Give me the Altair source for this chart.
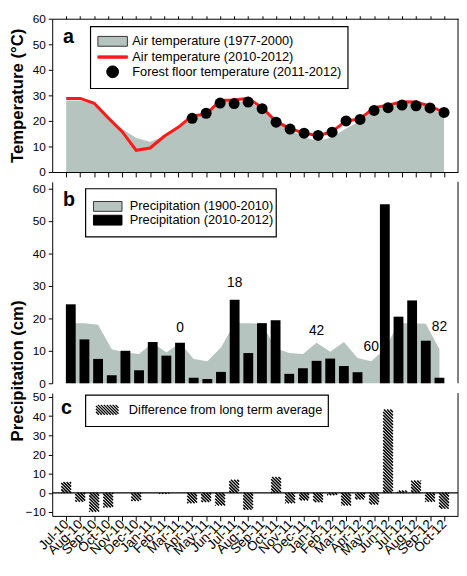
import altair as alt
import pandas as pd

# ---------------- data ----------------
months = ["Jul-10", "Aug-10", "Sep-10", "Oct-10", "Nov-10", "Dec-10",
          "Jan-11", "Feb-11", "Mar-11", "Apr-11", "May-11", "Jun-11",
          "Jul-11", "Aug-11", "Sep-11", "Oct-11", "Nov-11", "Dec-11",
          "Jan-12", "Feb-12", "Mar-12", "Apr-12", "May-12", "Jun-12",
          "Jul-12", "Aug-12", "Sep-12", "Oct-12"]

air_temp_1977_2000 = [28.0, 28.0, 26.5, 21.2, 16.8, 13.3, 11.8, 13.8, 17.2, 21.0,
                      22.5, 27.5, 27.6, 27.6, 24.8, 19.5, 16.5, 13.6, 12.1, 13.6,
                      17.0, 20.0, 24.8, 25.5, 27.2, 27.0, 25.5, 21.8]
air_temp_2010_2012 = [28.8, 28.8, 26.9, 21.2, 15.8, 8.5, 9.4, 14.0, 17.5, 22.0,
                      22.6, 28.0, 28.2, 28.9, 25.2, 19.8, 17.0, 15.2, 14.2, 15.8,
                      20.0, 20.8, 25.2, 26.2, 27.5, 27.4, 25.8, 23.3]
floor_temp_months = months[9:]
floor_temp_2011_2012 = [21.0, 23.0, 27.0, 26.8, 27.4, 24.8, 19.5, 16.8, 15.2, 14.3,
                        15.6, 20.0, 20.6, 24.1, 25.2, 26.2, 25.9, 25.1, 23.3]

precip_1900_2010 = [18.5, 18.5, 18.0, 10.5, 9.5, 9.0, 12.5, 9.5, 12.5, 7.5,
                    6.8, 11.0, 18.5, 18.5, 18.3, 10.8, 9.3, 9.0, 12.5, 9.7,
                    12.7, 7.8, 6.8, 10.5, 18.5, 18.5, 18.3, 10.5]
precip_2010_2012 = [24.3, 13.5, 7.5, 2.5, 10.0, 4.0, 12.7, 8.5, 12.5, 1.7,
                    1.3, 3.5, 25.7, 9.3, 18.5, 19.4, 2.9, 4.6, 6.9, 7.6,
                    5.3, 3.4, 0.0, 55.1, 20.5, 25.5, 13.1, 1.7]
precip_difference = [5.6, -4.6, -9.8, -7.6, 0.0, -4.2, 0.0, -0.5, 0.0, -5.4,
                     -4.8, -6.6, 6.8, -8.8, 0.0, 8.3, -5.4, -3.9, -4.9, -1.2,
                     -6.6, -3.4, -6.0, 43.4, 1.2, 6.4, -4.6, -8.3]

note_labels = ["0", "18", "42", "60", "82"]
note_months = ["Mar-11", "Jul-11", "Jan-12", "May-12", "Oct-12"]
note_values = [17.0, 30.7, 16.0, 11.0, 17.3]

legend_a = ["Air temperature (1977-2000)", "Air temperature (2010-2012)",
            "Forest floor temperature (2011-2012)"]
legend_b = ["Precipitation (1900-2010)", "Precipitation (2010-2012)"]
legend_c = ["Difference from long term average"]

# ---------------- styling ----------------
FONT = "Liberation Sans"
W = 413
HA, HB, HC = 156, 205, 125
XDOM = [-1, 28]
GRAY = "#b5c4bf"
RED = "#ff1a1a"
BAR_W = 10

idx = list(range(len(months)))
label_expr = "[" + ",".join("'%s'" % m for m in months) + "][datum.value]"
xscale = alt.Scale(domain=XDOM, nice=False, zero=False)


def yaxis(values, title=None, **kw):
    args = dict(values=values, minExtent=24, maxExtent=24, titlePadding=2, tickSize=4,
                labelOverlap=False)
    args["title"] = title
    args.update(kw)
    return alt.Axis(**args)


def x_plain(orient="bottom", tick=5):
    return alt.X("i:Q", scale=xscale,
                 axis=alt.Axis(values=idx, labels=False, tickSize=tick, orient=orient,
                               title=None, domain=True))


def right_line(h):
    return alt.Chart(pd.DataFrame({"k": [0]})).mark_rule(color="black", strokeWidth=1).encode(
        x=alt.value(W), y=alt.value(0), y2=alt.value(h))


def frame(x1, y1, x2, y2):
    return alt.Chart(pd.DataFrame({"k": [0]})).mark_rect(
        fill="white", stroke="black", strokeWidth=1.2).encode(
        x=alt.value(x1), x2=alt.value(x2), y=alt.value(y1), y2=alt.value(y2))


def letter(t, x, y):
    return alt.Chart(pd.DataFrame({"k": [0]})).mark_text(
        text=t, font=FONT, fontSize=20, fontWeight="bold", align="left",
        baseline="middle", color="black").encode(x=alt.value(x), y=alt.value(y))


def legend_layer(labels, fills, strokes, paths, size, lx, ly, offset, sw=1.0):
    leg = alt.Legend(title=None, orient="none", legendX=lx, legendY=ly,
                     symbolSize=size, labelOffset=offset, rowPadding=0, padding=0,
                     symbolStrokeWidth=sw, labelFontSize=13, labelFont=FONT,
                     labelColor="black", labelLimit=400, symbolOpacity=1)
    df = pd.DataFrame({"series": labels})
    return alt.Chart(df).mark_point(filled=True, opacity=1).encode(
        fill=alt.Fill("series:N", scale=alt.Scale(domain=labels, range=fills), legend=leg),
        stroke=alt.Stroke("series:N", scale=alt.Scale(domain=labels, range=strokes), legend=leg),
        shape=alt.Shape("series:N", scale=alt.Scale(domain=labels, range=paths), legend=leg),
    ).transform_filter("false")


def rect_path(hw, hh):
    return "M%.3f,%.3fH%.3fV%.3fH%.3fZ" % (-hw, -hh, hw, hh, -hw)


def circle_path(r):
    return "M%.3f,0A%.3f,%.3f,0,1,1,%.3f,0A%.3f,%.3f,0,1,1,%.3f,0Z" % (-r, r, r, r, r, r, -r)


def hatch_path(hw, hh, step):
    parts = []
    c = -(hw + hh)
    while c <= hw + hh:
        x1 = max(-hw, c - hh)
        x2 = min(hw, c + hh)
        if x2 - x1 > 0.05:
            parts.append("M%.3f,%.3fL%.3f,%.3f" % (x1, x1 - c, x2, x2 - c))
        c += step
    return "".join(parts)


# ---------------- panel a ----------------
ya = alt.Y("v:Q", scale=alt.Scale(domain=[0, 60], nice=False),
           axis=yaxis(list(range(0, 61, 10)), "Temperature (°C)"))

df_lt = pd.DataFrame({"i": idx, "v": air_temp_1977_2000})
df_now = pd.DataFrame({"i": idx, "v": air_temp_2010_2012})
df_floor = pd.DataFrame({"i": [months.index(m) for m in floor_temp_months],
                         "v": floor_temp_2011_2012})

area_a = alt.Chart(df_lt).mark_area(color=GRAY, opacity=1).encode(x=x_plain(), y=ya)
line_a = alt.Chart(df_now).mark_line(color=RED, strokeWidth=3).encode(
    x=x_plain("top", 3), y=ya)
dots_a = alt.Chart(df_floor).mark_circle(color="black", size=125, opacity=1).encode(
    x=alt.X("i:Q", scale=xscale, axis=None), y=ya)

u = 7.5
leg_a = legend_layer(legend_a, [GRAY, RED, "black"], ["#333333", RED, "black"],
                     [rect_path(15 / u, 5 / u), rect_path(15 / u, 1.2 / u), circle_path(6 / u)],
                     u * u * 4, 53.5, 15, 12)

panel_a = alt.layer(area_a, line_a, dots_a, right_line(HA), frame(39, 8, 301, 71),
                    letter("a", 11, 19), leg_a).resolve_axis(x="independent").properties(
    width=W, height=HA)

# ---------------- panel b ----------------
yb = alt.Y("v:Q", scale=alt.Scale(domain=[0, 62], nice=False),
           axis=yaxis(list(range(0, 61, 10)), "Precipitation (cm)", titleY=192))

df_plt = pd.DataFrame({"i": idx, "v": precip_1900_2010})
df_pnow = pd.DataFrame({"i": idx, "v": precip_2010_2012})
df_note = pd.DataFrame({"i": [months.index(m) for m in note_months], "v": note_values,
                        "t": note_labels})

area_b = alt.Chart(df_plt).mark_area(color=GRAY, opacity=1).encode(x=x_plain(), y=yb)
bars_b = alt.Chart(df_pnow).mark_bar(color="black", size=BAR_W).encode(
    x=alt.X("i:Q", scale=xscale, axis=None), y=yb)
notes_b = alt.Chart(df_note).mark_text(font=FONT, fontSize=14, color="black",
                                       baseline="middle").encode(
    x=alt.X("i:Q", scale=xscale, axis=None), y=yb, text="t:N")

u = 6.5
leg_b = legend_layer(legend_b, [GRAY, "black"], ["#333333", "black"],
                     [rect_path(14.5 / u, 5 / u), rect_path(14.5 / u, 5 / u)],
                     u * u * 4, 49.5, 18, 15.5)

panel_b = alt.layer(area_b, bars_b, notes_b, right_line(HB), frame(34, 7, 228, 56),
                    letter("b", 11, 19), leg_b).properties(width=W, height=HB)

# ---------------- panel c ----------------
YC = [-12, 52]
kx = W / (XDOM[1] - XDOM[0])
ky = HC / (YC[1] - YC[0])
step = 3.2
rows = []
for i, v in enumerate(precip_difference):
    if v == 0:
        continue
    lo = min(0.0, v) * ky
    hi = max(0.0, v) * ky
    x0 = (i - XDOM[0]) * kx - BAR_W / 2
    k = int((lo + x0) // step) - 1
    while True:
        c = k * step - x0
        k += 1
        if c < lo:
            continue
        if c > hi + BAR_W:
            break
        u1 = max(0.0, c - hi)
        u2 = min(float(BAR_W), c - lo)
        if u2 - u1 > 0.2:
            rows.append({"x": i + (u1 - BAR_W / 2) / kx, "y": (c - u1) / ky,
                         "x2": i + (u2 - BAR_W / 2) / kx, "y2": (c - u2) / ky})
df_hatch = pd.DataFrame(rows)

yc_scale = alt.Scale(domain=YC, nice=False)
yc_axis = yaxis(list(range(-10, 51, 10)))
hatch_c = alt.Chart(df_hatch).mark_rule(color="black", strokeWidth=1.5).encode(
    x=alt.X("x:Q", scale=xscale,
            axis=alt.Axis(values=idx, labelExpr=label_expr, labelAngle=-45,
                          labelAlign="right", labelBaseline="middle", labelFontSize=13.5,
                          labelPadding=1, tickSize=5, title=None, labelOverlap=False)),
    x2="x2:Q",
    y=alt.Y("y:Q", scale=yc_scale, axis=yc_axis),
    y2="y2:Q")
zero_c = alt.Chart(pd.DataFrame({"k": [0]})).mark_rule(color="black", strokeWidth=1.5).encode(
    y=alt.Y(datum=0, scale=yc_scale, axis=yc_axis))

u = 6.5
leg_c = legend_layer(legend_c, ["transparent"], ["black"],
                     [hatch_path(11.5 / u, 5 / u, 3.0 / u)],
                     u * u * 4, 48.5, 9.5, 14.5, sw=1.3)

panel_c = alt.layer(hatch_c, zero_c, right_line(HC), frame(34, 2, 281, 34),
                    letter("c", 9, 15), leg_c).properties(width=W, height=HC)

chart = alt.vconcat(panel_a, panel_b, panel_c, spacing=10, bounds="flush").resolve_scale(
    fill="independent", stroke="independent", shape="independent"
).properties(padding=0).configure(font=FONT).configure_view(stroke=None).configure_axis(
    labelFont=FONT, labelFontSize=12, labelColor="black", domainColor="black",
    tickColor="black", titleFont=FONT, titleFontSize=17, titleFontWeight="bold",
    titleColor="black", grid=False, domainWidth=1, tickWidth=1, labelPadding=3)

chart.save("out.html", embed_options={"renderer": "svg", "actions": False})
